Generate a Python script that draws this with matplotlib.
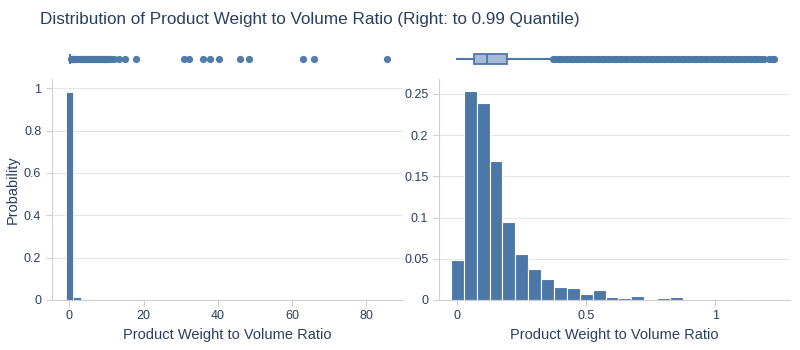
"""Product weight-to-volume ratio: full range vs. up to the 0.99 quantile."""

import matplotlib

matplotlib.use("Agg")
import matplotlib.pyplot as plt
from matplotlib.ticker import FuncFormatter

# left panel: full range, bins of width 2
FULL_BIN_CENTERS = [0, 2, 4, 6, 8, 10, 12, 14, 18, 30, 32, 36, 38, 40, 46, 48, 62, 66, 86]
FULL_PROB = [0.9832, 0.0118, 0.0027, 0.0010, 0.0005, 0.0003, 0.0002, 0.0001, 0.00005,
             0.00003, 0.00003, 0.00003, 0.00003, 0.00003, 0.00003, 0.00003, 0.00003, 0.00003, 0.00003]
FULL_BOX = {"whislo": 0.0, "q1": 0.07, "med": 0.12, "q3": 0.2, "whishi": 0.37}
FULL_OUTLIERS = [0.4, 0.7, 1.0, 1.3, 1.6, 2.0, 2.4, 2.8, 3.2, 3.6, 4.0, 4.4, 4.8, 5.2, 5.6,
                 6.0, 6.4, 6.8, 7.2, 7.6, 8.0, 8.4, 8.8, 9.2, 9.6, 10.0, 10.4, 10.8, 11.3,
                 12.0, 13.3, 15.0, 18.0, 30.9, 32.3, 36.0, 37.9, 40.2, 45.9, 48.3, 63.0,
                 66.0, 85.4]

# right panel: up to the 0.99 quantile, bins of width 0.05
Q99_BIN_CENTERS = [0.0, 0.05, 0.1, 0.15, 0.2, 0.25, 0.3, 0.35, 0.4, 0.45, 0.5, 0.55, 0.6,
                   0.65, 0.7, 0.75, 0.8, 0.85, 0.9, 0.95, 1.0, 1.05, 1.1, 1.15, 1.2]
Q99_PROB = [0.0484, 0.253, 0.239, 0.168, 0.094, 0.0556, 0.0375, 0.026, 0.0157, 0.0141,
            0.0069, 0.0125, 0.0036, 0.0024, 0.0048, 0.0016, 0.002, 0.0032, 0.0008, 0.0008,
            0.0012, 0.0008, 0.0004, 0.0012, 0.0004]
Q99_BOX = {"whislo": 0.0, "q1": 0.066, "med": 0.116, "q3": 0.192, "whishi": 0.366}
Q99_OUTLIERS = [0.37, 0.38, 0.39, 0.40, 0.41, 0.42, 0.43, 0.44, 0.45, 0.46, 0.47, 0.48,
                0.49, 0.50, 0.51, 0.52, 0.53, 0.54, 0.55, 0.56, 0.57, 0.58, 0.59, 0.60,
                0.61, 0.62, 0.63, 0.64, 0.65, 0.66, 0.67, 0.68, 0.69, 0.70, 0.71, 0.72,
                0.73, 0.74, 0.75, 0.76, 0.77, 0.78, 0.79, 0.80, 0.81, 0.82, 0.83, 0.84,
                0.85, 0.86, 0.87, 0.88, 0.89, 0.90, 0.91, 0.92, 0.93, 0.94, 0.95, 0.96,
                0.97, 0.98, 0.99, 1.00, 1.01, 1.02, 1.03, 1.04, 1.05, 1.06, 1.07, 1.08,
                1.09, 1.10, 1.11, 1.12, 1.13, 1.14, 1.15, 1.16, 1.17, 1.18, 1.19, 1.21,
                1.22, 1.23]

TITLE = "Distribution of Product Weight to Volume Ratio (Right: to 0.99 Quantile)"
XLABEL = "Product Weight to Volume Ratio"

BAR = "#4c78a8"
BOX_FILL = "#a5bad6"
TEXT = "#2a3f5f"
GRID = "#e6e6e6"
SPINE = "#d0d0d0"

plt.rcParams["font.family"] = ["Liberation Sans", "DejaVu Sans"]

fig = plt.figure(figsize=(8, 3.5), dpi=100, facecolor="white")
fmt = FuncFormatter(lambda v, _: f"{v:g}")


def style_main(ax):
    ax.set_facecolor("white")
    for side in ("top", "right"):
        ax.spines[side].set_visible(False)
    for side in ("left", "bottom"):
        ax.spines[side].set_color(SPINE)
    ax.grid(axis="y", color=GRID, linewidth=0.8)
    ax.set_axisbelow(True)
    ax.tick_params(colors=SPINE, labelcolor=TEXT, labelsize=9, length=4)
    ax.yaxis.set_major_formatter(fmt)
    ax.xaxis.set_major_formatter(fmt)
    ax.set_xlabel(XLABEL, color=TEXT, fontsize=10.5, labelpad=4)


def draw_box(ax, stats, outliers, xlim):
    ax.set_xlim(*xlim)
    ax.set_ylim(0, 1)
    ax.axis("off")
    box = dict(stats, fliers=outliers)
    ax.bxp([box], positions=[0.5], widths=0.37, vert=False, patch_artist=True,
           showcaps=False,
           boxprops=dict(facecolor=BOX_FILL, edgecolor=BAR, linewidth=1.3),
           medianprops=dict(color=BAR, linewidth=1.3),
           whiskerprops=dict(color=BAR, linewidth=1.5),
           flierprops=dict(marker="o", markerfacecolor=BAR, markeredgecolor=BAR,
                           markersize=4.2, alpha=0.95))


# left: full range
left_xlim = (-4.76, 89.8)
ax_l = fig.add_axes([0.0646, 0.1429, 0.439, 0.6306])
ax_l.bar(FULL_BIN_CENTERS, FULL_PROB, width=2, color=BAR, edgecolor="white", linewidth=0.6)
ax_l.set_xlim(*left_xlim)
ax_l.set_ylim(0, 1.042)
ax_l.set_xticks([0, 20, 40, 60, 80])
ax_l.set_yticks([0, 0.2, 0.4, 0.6, 0.8, 1])
style_main(ax_l)
ax_l.set_ylabel("Probability", color=TEXT, fontsize=10.5, labelpad=3)

box_l = fig.add_axes([0.0646, 0.794, 0.439, 0.077])
draw_box(box_l, FULL_BOX, FULL_OUTLIERS, left_xlim)

# right: to 0.99 quantile
right_xlim = (-0.072, 1.29)
ax_r = fig.add_axes([0.5484, 0.1429, 0.439, 0.6306])
ax_r.bar(Q99_BIN_CENTERS, Q99_PROB, width=0.05, color=BAR, edgecolor="white", linewidth=0.8)
ax_r.set_xlim(*right_xlim)
ax_r.set_ylim(0, 0.2677)
ax_r.set_xticks([0, 0.5, 1])
ax_r.set_yticks([0, 0.05, 0.1, 0.15, 0.2, 0.25])
style_main(ax_r)

box_r = fig.add_axes([0.5484, 0.794, 0.439, 0.077])
draw_box(box_r, Q99_BOX, Q99_OUTLIERS, right_xlim)

fig.text(0.05, 0.945, TITLE, color=TEXT, fontsize=12.3, ha="left", va="center")

fig.savefig("out.png", dpi=100, facecolor="white")
plt.close(fig)
